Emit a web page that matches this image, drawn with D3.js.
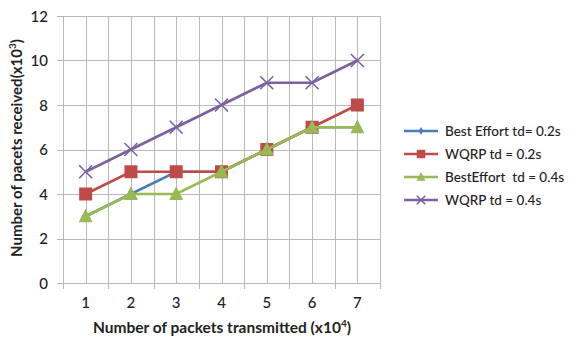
<!DOCTYPE html>
<html>
<head>
<meta charset="utf-8">
<script src="https://cdn.jsdelivr.net/npm/d3@7"></script>
<style>
  html, body { margin: 0; padding: 0; background: #fff; }
  svg { display: block; font-family: Lato, "Open Sans", sans-serif; }
</style>
</head>
<body>
<svg id="chart" width="580" height="341"></svg>
<script>
// Packets transmitted (x10^4) on the x axis
const categories = [1, 2, 3, 4, 5, 6, 7];
// Packets received (x10^3) per scheme
const bestEffort02 = [3, 4, 5, 5, 6, 7, 7];
const wqrp02 = [4, 5, 5, 5, 6, 7, 8];
const bestEffort04 = [3, 4, 4, 5, 6, 7, 7];
const wqrp04 = [5, 6, 7, 8, 9, 9, 10];
const yTicks = [0, 2, 4, 6, 8, 10, 12];
const seriesNames = ["Best Effort td= 0.2s", "WQRP td = 0.2s", "BestEffort  td = 0.4s", "WQRP td = 0.4s"];

const series = [
  { name: seriesNames[0], values: bestEffort02, color: "#4a7ebb", marker: "diamond" },
  { name: seriesNames[1], values: wqrp02, color: "#be4b48", marker: "square" },
  { name: seriesNames[2], values: bestEffort04, color: "#98b954", marker: "triangle" },
  { name: seriesNames[3], values: wqrp04, color: "#7d60a0", marker: "cross" }
];

const svg = d3.select("#chart");
const plot = { left: 63, right: 380, top: 16, bottom: 283 };

const x = d3.scaleBand().domain(categories).range([plot.left, plot.right]).padding(0);
const y = d3.scaleLinear().domain([0, 12]).range([plot.bottom, plot.top]);
const cx = d => x(d) + x.bandwidth() / 2;

const grid = svg.append("g").attr("stroke", "#b8b8b8").attr("stroke-width", 1);
// horizontal gridlines
grid.selectAll("line.h").data(yTicks).join("line")
  .attr("x1", plot.left - 6).attr("x2", plot.right)
  .attr("y1", d => Math.round(y(d)) + 0.5).attr("y2", d => Math.round(y(d)) + 0.5);
// vertical gridlines at category boundaries
const bounds = categories.map(c => x(c)).concat([plot.right]);
grid.selectAll("line.b").data(bounds).join("line")
  .attr("x1", d => Math.round(d) + 0.5).attr("x2", d => Math.round(d) + 0.5)
  .attr("y1", plot.top).attr("y2", plot.bottom + 6);
// vertical gridlines through category centres
grid.selectAll("line.c").data(categories).join("line")
  .attr("x1", d => Math.round(cx(d)) + 0.5).attr("x2", d => Math.round(cx(d)) + 0.5)
  .attr("y1", plot.top).attr("y2", plot.bottom);

// y tick labels
svg.append("g").selectAll("text").data(yTicks).join("text")
  .attr("x", 48).attr("y", d => y(d) + 5.5)
  .attr("text-anchor", "end").attr("font-size", 15).attr("font-weight", 500).attr("fill", "#222")
  .text(d => d);

// x tick labels
svg.append("g").selectAll("text").data(categories).join("text")
  .attr("x", d => cx(d)).attr("y", 308)
  .attr("text-anchor", "middle").attr("font-size", 15).attr("font-weight", 500).attr("fill", "#222")
  .text(d => d);

// axis titles
const xt = svg.append("text").attr("x", 222).attr("y", 333)
  .attr("text-anchor", "middle").attr("font-size", 15.5).attr("font-weight", "bold").attr("fill", "#222");
xt.append("tspan").text("Number of packets transmitted (x10");
xt.append("tspan").attr("font-size", 10).attr("dy", -6).text("4");
xt.append("tspan").attr("dy", 6).text(")");

const yt = svg.append("text").attr("transform", "translate(22,148) rotate(-90)")
  .attr("text-anchor", "middle").attr("font-size", 15).attr("font-weight", "bold").attr("fill", "#222");
yt.append("tspan").text("Number of pacets received(x10");
yt.append("tspan").attr("font-size", 10).attr("dy", -6).text("3");
yt.append("tspan").attr("dy", 6).text(")");

function drawMarker(g, type, color, px, py, scale) {
  const s = scale || 1;
  if (type === "diamond") {
    g.append("path").attr("d", d3.symbol(d3.symbolDiamond, 45 * s * s)()).attr("transform", `translate(${px},${py})`).attr("fill", color);
  } else if (type === "square") {
    const a = 13 * s;
    g.append("rect").attr("x", px - a / 2).attr("y", py - a / 2).attr("width", a).attr("height", a).attr("fill", color);
  } else if (type === "triangle") {
    const a = 14 * s;
    g.append("path").attr("d", `M${px},${py - a * 0.55}L${px + a / 2},${py + a * 0.42}L${px - a / 2},${py + a * 0.42}Z`).attr("fill", color);
  } else if (type === "cross") {
    const a = 6.5 * s;
    g.append("path").attr("d", `M${px - a},${py - a}L${px + a},${py + a}M${px - a},${py + a}L${px + a},${py - a}`)
      .attr("stroke", color).attr("stroke-width", 1.6).attr("fill", "none");
  }
}

const line = d3.line().x((d, i) => cx(categories[i])).y(d => y(d));
series.forEach(s => {
  const g = svg.append("g");
  g.append("path").datum(s.values).attr("d", line)
    .attr("fill", "none").attr("stroke", s.color).attr("stroke-width", 2.6);
  s.values.forEach((v, i) => drawMarker(g, s.marker, s.color, cx(categories[i]), y(v)));
});

// legend
const legendY = [131, 154, 177, 200];
const lg = svg.append("g");
series.forEach((s, i) => {
  const ly = legendY[i];
  lg.append("line").attr("x1", 404).attr("x2", 438).attr("y1", ly).attr("y2", ly)
    .attr("stroke", s.color).attr("stroke-width", 2.6);
  drawMarker(lg, s.marker, s.color, 421, ly, 0.65);
  lg.append("text").attr("x", 445).attr("y", ly + 5).attr("font-size", 13.5).attr("font-weight", 500).attr("fill", "#222")
    .attr("xml:space", "preserve").text(s.name);
});
</script>
</body>
</html>
